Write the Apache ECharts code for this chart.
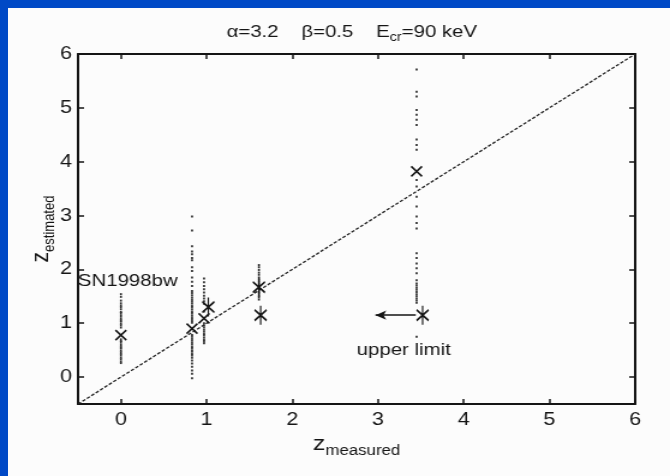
<!DOCTYPE html>
<html>
<head>
<meta charset="utf-8">
<script src="https://cdn.jsdelivr.net/npm/echarts@6/dist/echarts.min.js"></script>
<style>
  html, body { margin: 0; padding: 0; width: 670px; height: 476px; overflow: hidden; background: #0049c6; }
  #sheet { position: absolute; left: 8px; top: 8px; width: 662px; height: 468px; background: #fcfcfc; }
  /* the figure is laid out narrow and widened horizontally, like the printed plot */
  #chart { position: absolute; left: 0; top: 0; width: 558px; height: 476px;
           transform: scaleX(1.2007); transform-origin: 0 0; }
</style>
</head>
<body>
<div id="sheet"></div>
<div id="chart"></div>
<script>
// ---- data ----
const tickValues = [0, 1, 2, 3, 4, 5, 6];
const diagonal = [[-0.5, -0.5], [6, 6]];

// bursts with an X marker (best estimate per burst)
const crossPoints = [[0.00, 0.78], [0.83, 0.90], [0.97, 1.09], [3.45, 3.82]];
// bursts with an asterisk marker
const starPoints = [[1.02, 1.30], [1.61, 1.67], [1.63, 1.15], [3.52, 1.15]];

// individual estimates for each burst (vertical dot columns)
const cloudX = [0.00, 0.83, 0.97, 1.61, 3.45];
const cloud0 = [1.54, 1.49, 1.42, 1.37, 1.33, 1.30, 1.26, 1.21, 1.19, 1.15, 1.12, 1.08, 1.05, 1.03,
                0.99, 0.96, 0.92, 0.70, 0.67, 0.65, 0.61, 0.58, 0.55, 0.53, 0.49, 0.46, 0.43, 0.40,
                0.36, 0.33, 0.29, 0.26];
const cloud1 = [2.98, 2.72, 2.43, 2.33, 2.28, 2.21, 2.17, 2.04, 1.97, 1.85, 1.77, 1.69, 1.60, 1.56,
                1.52, 1.48, 1.44, 1.41, 1.37, 1.33, 1.30, 1.26, 1.22, 1.19, 1.15, 1.11, 1.08, 1.04,
                1.01, 0.78, 0.75, 0.71, 0.68, 0.64, 0.61, 0.57, 0.54, 0.50, 0.47, 0.43, 0.40, 0.36,
                0.31, 0.25, 0.19, 0.12, 0.06, -0.02];
const cloud2 = [1.83, 1.76, 1.69, 1.63, 1.57, 1.51, 1.46, 1.41, 1.36, 1.22, 1.00, 0.96, 0.92, 0.88,
                0.84, 0.80, 0.77, 0.73, 0.69, 0.66, 0.63];
const cloud3 = [2.08, 2.04, 1.99, 1.94, 1.90, 1.85, 1.81, 1.77, 1.73, 1.58, 1.55, 1.51, 1.48, 1.44];
const cloud4 = [5.71, 5.30, 5.21, 4.96, 4.87, 4.78, 4.68, 4.41, 4.31, 4.22, 3.66, 3.54, 3.35, 3.17,
                2.98, 2.86, 2.76, 2.30, 2.21, 2.11, 2.02, 1.93, 1.80, 1.74, 1.70, 1.66, 1.62, 1.58,
                1.54, 1.50, 1.46, 1.42, 1.38, 0.75];
const cloudY = [cloud0, cloud1, cloud2, cloud3, cloud4];

// leftward arrow marking the upper limit
const arrowFrom = [3.44, 1.15];
const arrowTo = [2.97, 1.15];

// text notes on the plot
const notes = [
  { name: 'SN1998bw', value: [0.08, 1.77] },
  { name: 'upper limit', value: [3.30, 0.50] }
];

// ---- chart ----
const FONT = '"Liberation Sans", Arial, Helvetica, sans-serif';
const INK = '#151515';

const cloudPoints = [];
cloudX.forEach((x, i) => cloudY[i].forEach(y => cloudPoints.push([x, y])));

const chart = echarts.init(document.getElementById('chart'), null, { renderer: 'canvas', width: 558, height: 476 });

const baseAxis = {
  min: -0.5, max: 6,
  splitLine: { show: false },
  axisLine: { show: true, onZero: false, lineStyle: { color: INK, width: 2 } },
  axisTick: { show: true, inside: true, length: 5, customValues: tickValues, lineStyle: { color: INK, width: 1.5 } }
};

const txt = (size, extra) => Object.assign({ fontFamily: FONT, fontSize: size, fontWeight: 'normal', color: INK }, extra || {});

chart.setOption({
  animation: false,
  backgroundColor: 'transparent',
  title: {
    text: '{t|α=3.2    β=0.5    E}{s|cr}{t|=90 keV}',
    left: 288, top: 19, textAlign: 'center',
    textStyle: {
      fontWeight: 'normal',
      rich: {
        t: txt(17, { verticalAlign: 'bottom', padding: [0, 0, 3, 0] }),
        s: txt(12, { verticalAlign: 'bottom' })
      }
    }
  },
  grid: { left: 65, right: 29, top: 54, bottom: 72 },
  xAxis: [
    Object.assign({}, baseAxis, {
      type: 'value', position: 'bottom',
      name: '{z|z}{s|measured}', nameLocation: 'middle', nameGap: 26,
      nameTextStyle: {
        rich: {
          z: txt(21, { verticalAlign: 'bottom', padding: [0, 0, 3, 0] }),
          s: txt(14, { verticalAlign: 'bottom' })
        }
      },
      axisLabel: Object.assign({ show: true, customValues: tickValues, margin: 7 }, txt(18))
    }),
    Object.assign({}, baseAxis, {
      type: 'value', position: 'top',
      axisLabel: { show: false }
    })
  ],
  yAxis: [
    Object.assign({}, baseAxis, {
      type: 'value', position: 'left',
      name: '{z|z}{s|estimated}', nameLocation: 'middle', nameGap: 17, nameRotate: 90,
      nameMoveOverlap: false,
      nameTextStyle: {
        rich: {
          z: txt(21, { verticalAlign: 'bottom', padding: [0, 0, 3, 0] }),
          s: txt(13, { verticalAlign: 'bottom' })
        }
      },
      axisLabel: Object.assign({ show: true, customValues: tickValues, margin: 5 }, txt(18))
    }),
    Object.assign({}, baseAxis, {
      type: 'value', position: 'right',
      axisLabel: { show: false }
    })
  ],
  series: [
    {
      name: 'z = z', type: 'line', data: diagonal, symbol: 'none', silent: true,
      lineStyle: { color: '#222', width: 1.3, type: [3, 1.6] }, z: 1
    },
    {
      name: 'estimates', type: 'scatter', data: cloudPoints, symbol: 'rect', symbolSize: [1.6, 2],
      itemStyle: { color: '#1c1c1c', opacity: 1 }, silent: true, z: 2
    },
    {
      name: 'cross', type: 'scatter', data: crossPoints,
      symbol: 'path://M0,0L10,10M10,0L0,10', symbolSize: [9, 10],
      itemStyle: { color: 'none', borderColor: INK, borderWidth: 1.6, opacity: 1 }, silent: true, z: 3
    },
    {
      name: 'star', type: 'scatter', data: starPoints,
      symbol: 'path://M0,4L10,14M10,4L0,14M5,0L5,18', symbolSize: [10, 19],
      itemStyle: { color: 'none', borderColor: INK, borderWidth: 1.6, opacity: 1 }, silent: true, z: 3,
      markLine: {
        silent: true, symbol: ['none', 'arrow'], symbolSize: [7, 9],
        lineStyle: { type: 'solid', color: INK, width: 1.6, opacity: 1 },
        itemStyle: { color: INK, opacity: 1 },
        label: { show: false },
        data: [[{ coord: arrowFrom }, { coord: arrowTo }]]
      }
    },
    {
      name: 'notes', type: 'scatter', data: notes, symbolSize: 0, silent: true, z: 4,
      itemStyle: { opacity: 1 },
      label: Object.assign({ show: true, position: 'inside', formatter: '{b}' }, txt(17))
    }
  ]
});
</script>
</body>
</html>
